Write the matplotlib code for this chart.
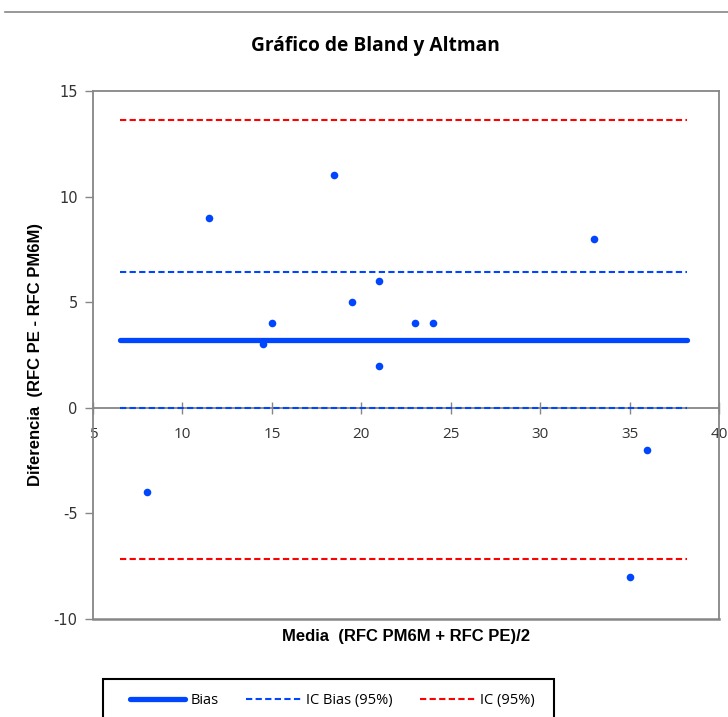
import matplotlib
matplotlib.use("Agg")
import matplotlib.pyplot as plt
from matplotlib.lines import Line2D
from matplotlib.patches import Rectangle

plt.rcParams["axes.unicode_minus"] = False

# data
media = [8, 11.5, 14.5, 15, 18.5, 19.5, 21, 21, 23, 24, 33, 35, 36]
diferencia = [-4, 9, 3, 4, 11, 5, 6, 2, 4, 4, 8, -8, -2]

bias = 3.23
ic_bias = [6.45, 0.0]
ic_95 = [13.62, -7.15]
line_x = [6.5, 38.2]

x_ticks = [5, 10, 15, 20, 25, 30, 35, 40]
y_ticks = [-10, -5, 0, 5, 10, 15]

BLUE = "#0046ff"
RED = "#ff0000"
GRAY = "#868686"

fig = plt.figure(figsize=(7.28, 7.17), dpi=100)
ax = fig.add_axes([93 / 728, 1 - 619 / 717, 626 / 728, 528 / 717])

ax.plot(line_x, [bias, bias], color=BLUE, lw=3.8, solid_capstyle="round",
        label="Bias", zorder=3)
for i, v in enumerate(ic_bias):
    ax.plot(line_x, [v, v], color=BLUE, lw=1.5, dashes=(3, 1.6), zorder=3,
            label="IC Bias (95%)" if i == 0 else None)
for i, v in enumerate(ic_95):
    ax.plot(line_x, [v, v], color=RED, lw=1.5, dashes=(3, 1.6), zorder=3,
            label="IC (95%)" if i == 0 else None)
ax.scatter(media, diferencia, s=30, color=BLUE, zorder=4, linewidths=0)

ax.set_xlim(5, 40)
ax.set_ylim(-10, 15)
ax.set_xticks(x_ticks)
ax.set_yticks(y_ticks)

for s in ax.spines.values():
    s.set_color(GRAY)
    s.set_linewidth(1.3)
ax.spines["bottom"].set_position(("data", 0))
ax.axhline(-10, color=GRAY, lw=1.8, clip_on=False)

ax.tick_params(axis="x", direction="inout", length=9, width=1, color=GRAY,
               pad=9, labelsize=11, labelcolor="#333333")
ax.tick_params(axis="y", direction="out", length=6, width=1, color=GRAY,
               pad=5, labelsize=10.5, labelcolor="#333333")
for t in ax.get_xticklabels():
    t.set_fontfamily("Open Sans")

fig.add_artist(Line2D([5 / 728, 1], [1 - 12 / 717, 1 - 12 / 717],
                      color=GRAY, lw=1.2))
fig.text(0.516, 1 - 46 / 717, "Gráfico de Bland y Altman", ha="center",
         va="center", fontsize=13.8, fontweight="bold", family="Open Sans")
fig.text(406 / 728, 1 - 636 / 717, "Media  (RFC PM6M + RFC PE)/2", ha="center",
         va="center", fontsize=12, fontweight="bold", family="Liberation Sans")
fig.text(36 / 728, 1 - 355 / 717, "Diferencia  (RFC PE - RFC PM6M)", ha="center",
         va="center", rotation=90, fontsize=12, fontweight="bold",
         family="Liberation Sans")

# legend box is drawn separately so the padding can match the reference
fig.legend(loc="upper left", bbox_to_anchor=(130 / 728, 1 - 693 / 717),
           ncol=3, frameon=False, handlelength=3.8, columnspacing=1.85,
           handletextpad=0.35, borderpad=0, borderaxespad=0,
           prop={"family": "Open Sans", "size": 10.5})
fig.add_artist(Rectangle((103 / 728, 1 - 730 / 717), 451 / 728, 51 / 717,
                         transform=fig.transFigure, fill=False,
                         edgecolor="black", linewidth=1.5))

fig.savefig("out.png", dpi=100)
